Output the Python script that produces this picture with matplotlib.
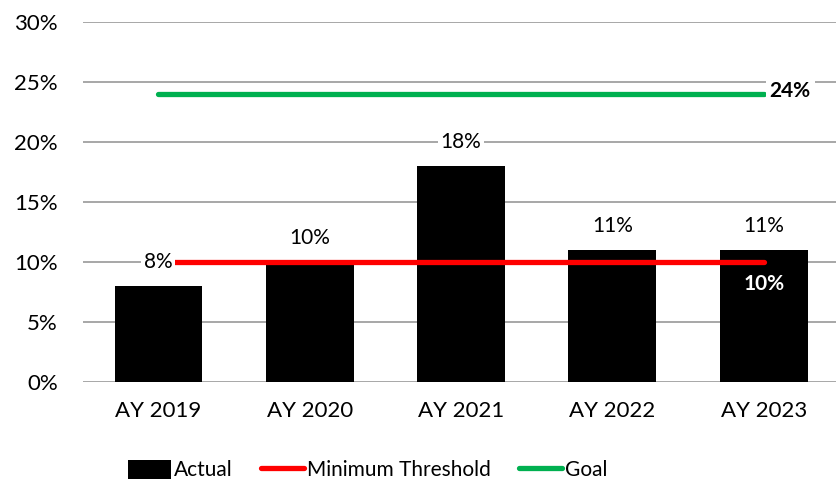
import numpy as np
import matplotlib
matplotlib.use("Agg")
from matplotlib import pyplot as plt
from matplotlib.patches import Patch
from matplotlib.lines import Line2D

plt.rcParams['font.family'] = ['Lato', 'DejaVu Sans']

years = ["AY 2019", "AY 2020", "AY 2021", "AY 2022", "AY 2023"]
actual = [8, 10, 18, 11, 11]
threshold = [10, 10, 10, 10, 10]
goal = [24, 24, 24, 24, 24]

fig = plt.figure(figsize=(8.36, 4.83), dpi=100)
ax = fig.add_axes([0.099, 0.209, 0.905, 0.745])

x = np.arange(len(years))
ax.bar(x, actual, width=0.58, color="black", zorder=2)
ax.plot(x, threshold, color="#ff0000", lw=3.8, solid_capstyle="round", zorder=3)
ax.plot(x, goal, color="#00b050", lw=3.8, solid_capstyle="round", zorder=3)

# value labels above bars (white box breaks the gridlines)
for xi, v in zip(x, actual):
    ax.text(xi, v + 2.0, f"{v}%", ha="center", va="center", fontsize=15,
            zorder=5, bbox=dict(facecolor="white", edgecolor="none", pad=2))

ax.text(x[-1] + 0.04, goal[-1] + 0.3, f"{goal[-1]}%", ha="left", va="center",
        fontsize=15, fontweight="bold", zorder=5,
        bbox=dict(facecolor="white", edgecolor="none", pad=3))
ax.text(x[-1], threshold[-1] - 1.8, f"{threshold[-1]}%", ha="center", va="center",
        fontsize=15, fontweight="bold", color="white", zorder=5)

ax.set_xlim(-0.5, 4.5)
ax.set_ylim(0, 30)
ax.set_yticks(np.arange(0, 31, 5))
ax.set_yticklabels([f"{t}%" for t in range(0, 31, 5)])
ax.set_xticks(x)
ax.set_xticklabels(years)
ax.tick_params(axis="both", length=0, labelsize=16)
ax.tick_params(axis="y", pad=18)
ax.tick_params(axis="x", pad=14)
ax.grid(axis="y", color="#a0a0a0", lw=1.3, zorder=0)
ax.set_axisbelow(True)
for s in ax.spines.values():
    s.set_visible(False)

handles = [Patch(facecolor="black", edgecolor="none", label="Actual"),
           Line2D([], [], color="#ff0000", lw=3.8, solid_capstyle="round", label="Minimum Threshold"),
           Line2D([], [], color="#00b050", lw=3.8, solid_capstyle="round", label="Goal")]
fig.legend(handles=handles, loc="center", bbox_to_anchor=(0.44, 0.027), ncol=3,
           frameon=False, fontsize=15, handlelength=2.07, handleheight=1.05,
           handletextpad=0.15, columnspacing=1.35)

fig.savefig("out.png", dpi=100)
